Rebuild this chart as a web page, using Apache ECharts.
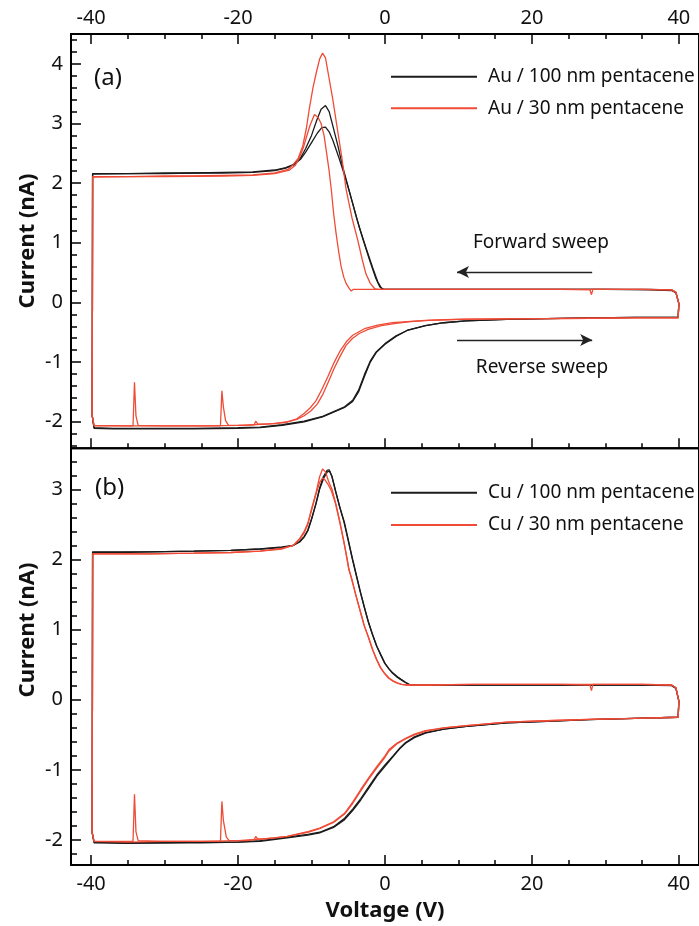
<!DOCTYPE html>
<html>
<head>
<meta charset="utf-8">
<script src="https://cdn.jsdelivr.net/npm/echarts@6/dist/echarts.min.js"></script>
<style>
html, body { margin: 0; padding: 0; background: #fff; }
#chart { width: 699px; height: 926px; }
</style>
</head>
<body>
<div id="chart"></div>
<script>
// tick positions / labels
var xMajorTicks = [-40, -20, 0, 20, 40];
var xMinorTicks = [-35, -30, -25, -15, -10, -5, 5, 10, 15, 25, 30, 35];
var yMajorTicksA = [-2, -1, 0, 1, 2, 3, 4];
var yMajorTicksB = [-2, -1, 0, 1, 2, 3];
var seriesNames = ['Au / 100 nm pentacene', 'Au / 30 nm pentacene', 'Cu / 100 nm pentacene', 'Cu / 30 nm pentacene'];

// (a) Au, 100 nm : forward sweep (40 -> -40) and reverse sweep (-40 -> 40), two runs
var au100Fwd1 = [[40,-0.02],[39.6,0.16],[39,0.2],[36,0.21],[30,0.22],[24,0.22],[18,0.22],[12,0.22],[6,0.22],[2,0.22],[0.2,0.22],[-0.2,0.22],[-0.7,0.26],[-1.3,0.42],[-2.1,0.71],[-3.0,1.06],[-3.9,1.43],[-4.8,1.84],[-5.75,2.27],[-6.4,2.62],[-7.1,2.96],[-7.6,3.2],[-8.1,3.3],[-8.7,3.24],[-9.3,3.05],[-10.0,2.8],[-10.8,2.58],[-11.5,2.42],[-12.5,2.31],[-13.5,2.26],[-15,2.22],[-18,2.19],[-22,2.18],[-26,2.17],[-30,2.17],[-35,2.16],[-39.8,2.16]];
var au100Rev1 = [[-40,2.14],[-39.85,-1.9],[-39.6,-2.11],[-37,-2.12],[-32,-2.12],[-26,-2.12],[-20,-2.11],[-17,-2.1],[-14,-2.06],[-11,-2.0],[-8.5,-1.92],[-6.6,-1.82],[-5.5,-1.76],[-4.4,-1.66],[-3.6,-1.5],[-2.8,-1.24],[-2.0,-1.0],[-1.2,-0.84],[0,-0.7],[1.5,-0.57],[3,-0.47],[5.5,-0.39],[8,-0.34],[11,-0.31],[16.5,-0.285],[22,-0.27],[28,-0.26],[34,-0.25],[39.9,-0.245],[40,-0.02]];
var au100Fwd2 = [[40,-0.02],[39.6,0.17],[39,0.21],[36,0.22],[30,0.22],[24,0.22],[18,0.22],[12,0.22],[6,0.22],[2,0.22],[-0.2,0.22],[-0.5,0.24],[-1.0,0.35],[-1.7,0.59],[-2.6,0.92],[-3.5,1.26],[-4.4,1.66],[-5.3,2.05],[-6.2,2.4],[-7.1,2.72],[-7.6,2.86],[-8.1,2.94],[-8.6,2.93],[-9.2,2.84],[-10.0,2.68],[-10.8,2.52],[-11.5,2.4],[-12.5,2.3],[-13.5,2.25],[-15,2.21],[-18,2.18],[-22,2.17],[-26,2.17],[-30,2.16],[-35,2.16],[-39.8,2.15]];
var au100Rev2 = [[-40,2.13],[-39.85,-1.9],[-39.6,-2.1],[-37,-2.11],[-32,-2.11],[-26,-2.11],[-20,-2.1],[-17,-2.09],[-14,-2.05],[-11,-1.99],[-8.5,-1.91],[-6.6,-1.81],[-5.5,-1.75],[-4.4,-1.64],[-3.6,-1.47],[-2.8,-1.21],[-2.0,-0.98],[-1.2,-0.83],[0,-0.69],[1.5,-0.56],[3,-0.47],[5.5,-0.39],[8,-0.34],[11,-0.31],[16.5,-0.285],[22,-0.27],[28,-0.26],[34,-0.25],[39.9,-0.245],[40,-0.02]];

// (a) Au, 30 nm
var au30Fwd1 = [[40,-0.02],[39.6,0.17],[39,0.21],[35,0.22],[30,0.22],[28.3,0.22],[28.1,0.13],[27.9,0.21],[24,0.22],[18,0.22],[12,0.22],[6,0.22],[2,0.22],[-1.0,0.22],[-1.4,0.23],[-2.0,0.32],[-2.6,0.48],[-3.1,0.72],[-3.7,1.04],[-4.5,1.42],[-5.3,1.9],[-5.9,2.45],[-6.6,3.0],[-7.1,3.4],[-7.6,3.75],[-8.1,4.1],[-8.5,4.18],[-8.9,4.08],[-9.3,3.88],[-9.8,3.6],[-10.3,3.25],[-10.7,2.92],[-11.2,2.62],[-11.8,2.42],[-12.5,2.31],[-13.2,2.23],[-15,2.17],[-18,2.14],[-22,2.13],[-26,2.12],[-30,2.12],[-35,2.11],[-39.8,2.11]];
var au30Rev1 = [[-40,2.1],[-39.85,-1.9],[-39.6,-2.07],[-37,-2.07],[-34.3,-2.07],[-34.1,-1.34],[-33.9,-1.9],[-33.6,-2.06],[-30,-2.07],[-26,-2.07],[-22.4,-2.07],[-22.2,-1.48],[-22.0,-1.75],[-21.7,-1.98],[-21.3,-2.06],[-19,-2.06],[-17.8,-2.05],[-17.6,-1.99],[-17.3,-2.04],[-15,-2.03],[-13.3,-2.0],[-12,-1.95],[-11.1,-1.87],[-10.2,-1.77],[-9.4,-1.65],[-8.6,-1.46],[-7.8,-1.25],[-6.9,-1.0],[-6.1,-0.81],[-5.2,-0.65],[-4.4,-0.55],[-2.8,-0.44],[-1,-0.38],[1,-0.34],[3,-0.32],[5.5,-0.3],[8,-0.29],[11,-0.28],[16,-0.275],[22,-0.27],[28,-0.265],[34,-0.26],[39.9,-0.26],[40,-0.02]];
var au30Fwd2 = [[40,-0.02],[39.6,0.17],[39,0.21],[35,0.22],[30,0.22],[24,0.22],[18,0.22],[12,0.22],[6,0.22],[0,0.22],[-4.3,0.22],[-4.6,0.19],[-4.9,0.24],[-5.3,0.32],[-5.6,0.42],[-5.97,0.6],[-6.3,0.85],[-6.65,1.15],[-7.0,1.5],[-7.3,1.88],[-7.6,2.2],[-8.0,2.55],[-8.3,2.8],[-8.7,3.0],[-9.1,3.1],[-9.6,3.15],[-10.2,2.97],[-10.7,2.77],[-11.1,2.6],[-11.6,2.44],[-12.2,2.3],[-13,2.22],[-15,2.16],[-18,2.13],[-22,2.12],[-30,2.11],[-35,2.11],[-39.8,2.1]];
var au30Rev2 = [[-40,2.09],[-39.85,-1.9],[-39.6,-2.06],[-35,-2.07],[-30,-2.07],[-25,-2.07],[-20,-2.06],[-16,-2.04],[-13.5,-2.01],[-12,-1.96],[-11,-1.9],[-10.1,-1.82],[-9.2,-1.7],[-8.5,-1.55],[-7.7,-1.33],[-6.9,-1.1],[-6.1,-0.9],[-5.3,-0.72],[-4.4,-0.6],[-3.5,-0.52],[-2.3,-0.45],[-0.5,-0.39],[1.5,-0.35],[3.5,-0.32],[6,-0.3],[10,-0.285],[16,-0.275],[22,-0.27],[28,-0.265],[34,-0.26],[39.9,-0.26],[40,-0.02]];

// (b) Cu, 100 nm
var cu100Fwd1 = [[40,-0.02],[39.6,0.16],[39,0.2],[35,0.21],[30,0.21],[24,0.21],[18,0.21],[12,0.21],[8,0.21],[4.5,0.21],[3.6,0.21],[3.3,0.22],[2.8,0.25],[2.2,0.29],[1.65,0.33],[1.1,0.38],[0.55,0.44],[0,0.52],[-0.5,0.63],[-1.1,0.76],[-1.65,0.92],[-2.2,1.09],[-2.75,1.3],[-3.3,1.52],[-3.85,1.76],[-4.4,2.0],[-4.95,2.26],[-5.5,2.52],[-6.1,2.73],[-6.65,2.95],[-7.2,3.18],[-7.6,3.28],[-7.9,3.27],[-8.4,3.18],[-8.9,3.02],[-9.4,2.8],[-10.0,2.58],[-10.5,2.42],[-11.0,2.33],[-11.6,2.26],[-12.5,2.2],[-14,2.18],[-17,2.15],[-21,2.13],[-26,2.12],[-32,2.11],[-36,2.11],[-39.8,2.11]];
var cu100Rev1 = [[-40,2.1],[-39.85,-1.9],[-39.6,-2.04],[-35,-2.05],[-30,-2.04],[-25,-2.04],[-20,-2.03],[-17,-2.02],[-13.3,-1.97],[-10.5,-1.93],[-8.9,-1.9],[-7,-1.82],[-5.5,-1.71],[-4.4,-1.58],[-3.3,-1.43],[-2.2,-1.26],[-1.1,-1.09],[0,-0.95],[1.1,-0.81],[2,-0.7],[2.8,-0.62],[4,-0.54],[5.5,-0.475],[8,-0.42],[11.1,-0.38],[16.6,-0.33],[22,-0.31],[27.7,-0.285],[34,-0.265],[39.9,-0.25],[40,-0.02]];
var cu100Fwd2 = [[40,-0.02],[39.6,0.17],[39,0.21],[35,0.21],[30,0.21],[24,0.21],[18,0.21],[12,0.21],[8,0.21],[4.5,0.21],[3.5,0.21],[3.2,0.22],[2.7,0.25],[2.1,0.29],[1.55,0.33],[1.0,0.38],[0.45,0.45],[-0.1,0.53],[-0.6,0.64],[-1.2,0.78],[-1.75,0.94],[-2.3,1.12],[-2.85,1.33],[-3.4,1.55],[-3.95,1.79],[-4.5,2.03],[-5.05,2.29],[-5.6,2.54],[-6.2,2.76],[-6.75,2.98],[-7.25,3.19],[-7.55,3.26],[-7.85,3.25],[-8.35,3.16],[-8.9,3.0],[-9.4,2.79],[-10.0,2.57],[-10.5,2.41],[-11.0,2.32],[-11.6,2.25],[-12.5,2.2],[-14,2.17],[-17,2.15],[-21,2.13],[-26,2.12],[-32,2.11],[-36,2.1],[-39.8,2.1]];
var cu100Rev2 = [[-40,2.09],[-39.85,-1.9],[-39.6,-2.03],[-35,-2.04],[-30,-2.04],[-25,-2.03],[-20,-2.03],[-17,-2.01],[-13.3,-1.96],[-10.5,-1.92],[-8.9,-1.89],[-7,-1.81],[-5.5,-1.69],[-4.4,-1.56],[-3.3,-1.41],[-2.2,-1.24],[-1.1,-1.07],[0,-0.93],[1.1,-0.8],[2,-0.69],[2.8,-0.61],[4,-0.53],[5.5,-0.47],[8,-0.42],[11.1,-0.38],[16.6,-0.33],[22,-0.31],[27.7,-0.285],[34,-0.265],[39.9,-0.25],[40,-0.02]];

// (b) Cu, 30 nm
var cu30Fwd1 = [[40,-0.02],[39.6,0.17],[39,0.21],[35,0.22],[30,0.22],[28.3,0.22],[28.1,0.13],[27.9,0.21],[24,0.22],[18,0.22],[12,0.22],[6,0.21],[3.05,0.21],[2.3,0.22],[1.66,0.24],[1.1,0.27],[0.55,0.31],[0,0.37],[-0.55,0.45],[-1.1,0.57],[-1.66,0.71],[-2.2,0.88],[-2.8,1.05],[-3.35,1.26],[-3.9,1.47],[-4.45,1.68],[-5.0,1.9],[-5.5,2.2],[-6.1,2.52],[-6.65,2.78],[-7.2,3.0],[-7.7,3.12],[-8.1,3.25],[-8.5,3.29],[-8.9,3.18],[-9.4,2.95],[-10.0,2.72],[-10.5,2.52],[-11.0,2.4],[-11.6,2.3],[-12.5,2.2],[-14,2.16],[-17,2.12],[-21,2.1],[-26,2.09],[-32,2.08],[-36,2.08],[-39.8,2.08]];
var cu30Rev1 = [[-40,2.07],[-39.85,-1.9],[-39.6,-2.02],[-36,-2.02],[-34.3,-2.02],[-34.1,-1.35],[-33.9,-1.88],[-33.6,-2.01],[-30,-2.02],[-26,-2.02],[-22.4,-2.02],[-22.2,-1.45],[-22.0,-1.72],[-21.6,-1.96],[-21.2,-2.01],[-19,-2.01],[-17.8,-2.0],[-17.6,-1.95],[-17.3,-1.99],[-15,-1.97],[-13.3,-1.95],[-10.5,-1.88],[-8.9,-1.83],[-7,-1.74],[-5.5,-1.62],[-4.4,-1.46],[-3.3,-1.28],[-2.2,-1.11],[-1.1,-0.95],[0,-0.8],[0.55,-0.71],[1.6,-0.62],[2.8,-0.55],[4,-0.49],[5.5,-0.44],[8,-0.4],[11.1,-0.37],[16.6,-0.32],[22,-0.3],[27.7,-0.28],[34,-0.265],[39.9,-0.25],[40,-0.02]];
var cu30Fwd2 = [[40,-0.02],[39.6,0.17],[39,0.21],[35,0.22],[30,0.22],[24,0.22],[18,0.22],[12,0.22],[6,0.21],[3.0,0.21],[2.2,0.22],[1.6,0.24],[1.0,0.27],[0.45,0.31],[-0.1,0.38],[-0.65,0.46],[-1.2,0.58],[-1.75,0.73],[-2.3,0.9],[-2.9,1.08],[-3.45,1.29],[-4.0,1.5],[-4.5,1.72],[-4.9,1.85],[-5.1,1.98],[-5.6,2.25],[-6.2,2.55],[-6.75,2.8],[-7.3,2.98],[-7.8,3.08],[-8.2,3.14],[-8.5,3.16],[-8.9,3.1],[-9.4,2.93],[-10.0,2.7],[-10.5,2.5],[-11.0,2.38],[-11.6,2.29],[-12.5,2.2],[-14,2.15],[-17,2.12],[-21,2.1],[-26,2.09],[-32,2.08],[-36,2.08],[-39.8,2.08]];
var cu30Rev2 = [[-40,2.07],[-39.85,-1.9],[-39.6,-2.02],[-35,-2.03],[-30,-2.02],[-25,-2.02],[-20,-2.01],[-16,-1.98],[-13.3,-1.95],[-10.5,-1.89],[-8.9,-1.84],[-7,-1.75],[-5.5,-1.63],[-4.4,-1.48],[-3.3,-1.3],[-2.2,-1.13],[-1.1,-0.97],[0,-0.82],[0.55,-0.73],[1.6,-0.63],[2.8,-0.56],[4,-0.5],[5.5,-0.45],[8,-0.4],[11.1,-0.37],[16.6,-0.32],[22,-0.3],[27.7,-0.28],[34,-0.265],[39.9,-0.25],[40,-0.02]];

var FONT = 'Noto Sans';
var BLACK = '#1b1b1b';
var RED = '#ef4b36';
var xMin = -42.74, xMax = 42.74;

function minorList(from, to, step, skip) {
    var out = [];
    for (var v = from; v <= to + 1e-9; v += step) {
        var r = Math.round(v * 10) / 10;
        if (skip.indexOf(r) < 0) out.push(r);
    }
    return out;
}
var yMinorTicksA = minorList(-2.4, 4.4, 0.2, yMajorTicksA);
var yMinorTicksB = minorList(-2.2, 3.4, 0.2, yMajorTicksB);

function xAx(grid, pos, ticks, len, labels, extra) {
    var a = {
        gridIndex: grid, type: 'value', position: pos, min: xMin, max: xMax,
        axisLine: {show: false, onZero: false},
        splitLine: {show: false},
        axisTick: {show: true, inside: true, length: len, customValues: ticks,
            lineStyle: {color: '#000', width: 1.5}},
        axisLabel: labels ? {show: true, customValues: labels, margin: pos === 'top' ? 6 : 9,
            fontSize: 20, fontFamily: FONT, color: '#111'} : {show: false}
    };
    for (var k in extra) a[k] = extra[k];
    return a;
}
function yAx(grid, min, max, ticks, len, labels) {
    return {
        gridIndex: grid, type: 'value', position: 'left', min: min, max: max,
        axisLine: {show: false, onZero: false},
        splitLine: {show: false},
        axisTick: {show: true, inside: true, length: len, customValues: ticks,
            lineStyle: {color: '#000', width: 1.5}},
        axisLabel: labels ? {show: true, customValues: labels, margin: 8,
            fontSize: 20, fontFamily: FONT, color: '#111'} : {show: false}
    };
}
function loop(name, color, xi, yi, fwd, rev) {
    return {
        name: name, type: 'line', xAxisIndex: xi, yAxisIndex: yi,
        data: fwd.concat(rev), showSymbol: false, symbol: 'none', smooth: false,
        color: color, itemStyle: {color: color},
        lineStyle: {color: color, width: 1.3},
        z: color === RED ? 3 : 2
    };
}

var au100a = loop(seriesNames[0], BLACK, 0, 0, au100Fwd1, au100Rev1);
au100a.markLine = {
    silent: true, symbol: ['none', 'arrow'], symbolSize: [9, 12],
    label: {show: false},
    lineStyle: {color: '#222', width: 1.3, type: 'solid'},
    data: [
        [{coord: [28.2, 0.51]}, {coord: [9.8, 0.51]}],
        [{coord: [9.8, -0.63]}, {coord: [28.2, -0.63]}]
    ]
};

var option = {
    animation: false,
    backgroundColor: '#fff',
    textStyle: {fontFamily: FONT},
    grid: [
        {left: 71, top: 34, width: 629, height: 414.3, show: true, borderColor: '#000', borderWidth: 2},
        {left: 71, top: 448.3, width: 629, height: 416.7, show: true, borderColor: '#000', borderWidth: 2}
    ],
    xAxis: [
        xAx(0, 'top', xMajorTicks, 10, xMajorTicks),
        xAx(0, 'top', xMinorTicks, 5, null),
        xAx(0, 'bottom', xMajorTicks, 10, null),
        xAx(0, 'bottom', xMinorTicks, 5, null),
        xAx(1, 'bottom', xMajorTicks, 10, xMajorTicks, {
            name: 'Voltage (V)', nameLocation: 'middle', nameGap: 35,
            nameTextStyle: {fontSize: 22, fontWeight: 'bold', fontFamily: FONT, color: '#111'}
        }),
        xAx(1, 'bottom', xMinorTicks, 5, null)
    ],
    yAxis: [
        yAx(0, -2.445, 4.5, yMajorTicksA, 10, yMajorTicksA),
        yAx(0, -2.445, 4.5, yMinorTicksA, 6, null),
        yAx(1, -2.357, 3.586, yMajorTicksB, 10, yMajorTicksB),
        yAx(1, -2.357, 3.586, yMinorTicksB, 6, null)
    ],
    legend: [
        {
            data: [seriesNames[0], seriesNames[1]], orient: 'vertical', left: 391, top: 66.7, padding: 0,
            itemWidth: 86, itemHeight: 2, itemGap: 11.6, icon: 'rect', selectedMode: false,
            textStyle: {fontSize: 19, lineHeight: 20, fontFamily: FONT, color: '#111', padding: [0, 0, 0, 6]}
        },
        {
            data: [seriesNames[2], seriesNames[3]], orient: 'vertical', left: 391, top: 482.7, padding: 0,
            itemWidth: 86, itemHeight: 2, itemGap: 12.3, icon: 'rect', selectedMode: false,
            textStyle: {fontSize: 19, lineHeight: 20, fontFamily: FONT, color: '#111', padding: [0, 0, 0, 6]}
        }
    ],
    graphic: [
        {type: 'text', left: 94, top: 66, style: {text: '(a)', font: '24px "Noto Sans"', fill: '#111'}},
        {type: 'text', left: 95, top: 476, style: {text: '(b)', font: '24px "Noto Sans"', fill: '#111'}},
        {type: 'text', x: 541, y: 243, style: {text: 'Forward sweep', font: '19px "Noto Sans"', fill: '#111', align: 'center', verticalAlign: 'middle'}},
        {type: 'text', x: 542, y: 368, style: {text: 'Reverse sweep', font: '19px "Noto Sans"', fill: '#111', align: 'center', verticalAlign: 'middle'}},
        {type: 'text', x: 28, y: 241, rotation: Math.PI / 2, style: {text: 'Current (nA)', font: 'bold 22px "Noto Sans"', fill: '#111', align: 'center', verticalAlign: 'middle'}},
        {type: 'text', x: 28, y: 630, rotation: Math.PI / 2, style: {text: 'Current (nA)', font: 'bold 22px "Noto Sans"', fill: '#111', align: 'center', verticalAlign: 'middle'}}
    ],
    series: [
        au100a,
        loop(seriesNames[0], BLACK, 0, 0, au100Fwd2, au100Rev2),
        loop(seriesNames[1], RED, 0, 0, au30Fwd1, au30Rev1),
        loop(seriesNames[1], RED, 0, 0, au30Fwd2, au30Rev2),
        loop(seriesNames[2], BLACK, 4, 2, cu100Fwd1, cu100Rev1),
        loop(seriesNames[2], BLACK, 4, 2, cu100Fwd2, cu100Rev2),
        loop(seriesNames[3], RED, 4, 2, cu30Fwd1, cu30Rev1),
        loop(seriesNames[3], RED, 4, 2, cu30Fwd2, cu30Rev2)
    ]
};

var chart = echarts.init(document.getElementById('chart'));
chart.setOption(option);
</script>
</body>
</html>
